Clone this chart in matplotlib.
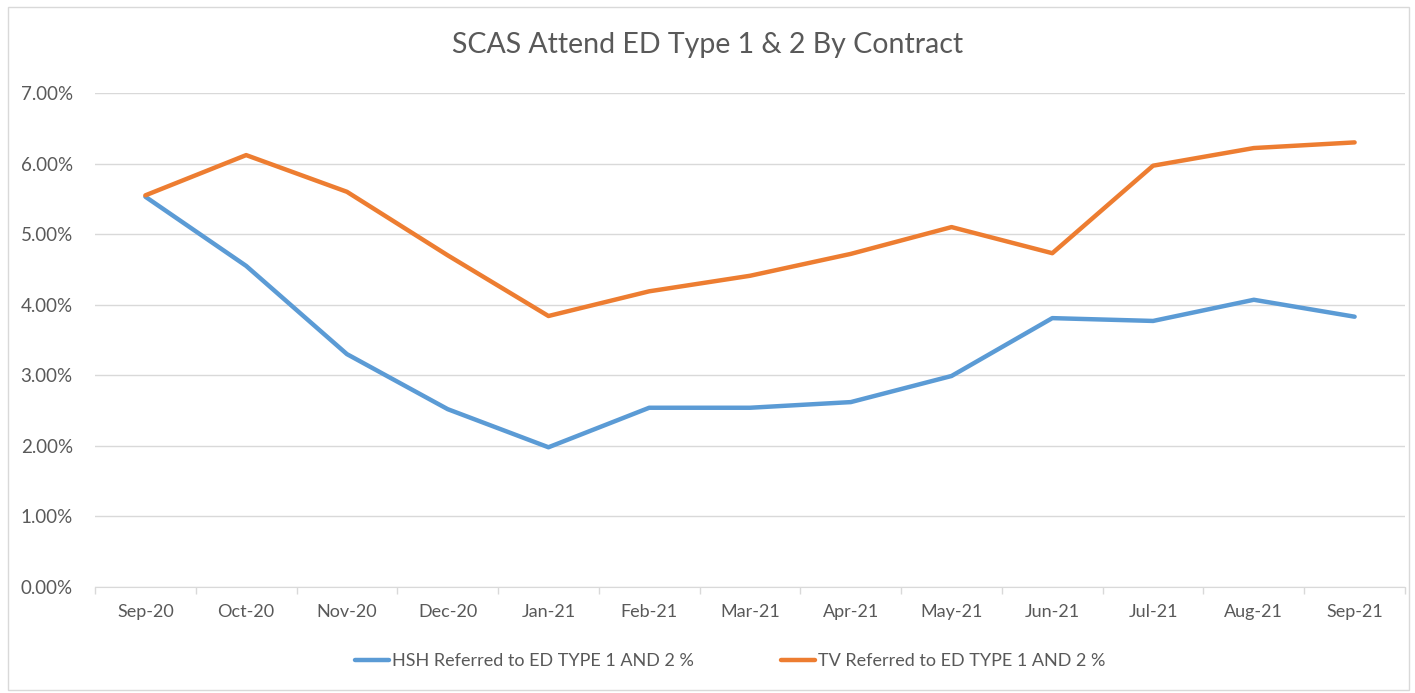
import numpy as np
import matplotlib.pyplot as plt
from matplotlib.ticker import PercentFormatter
from matplotlib.patches import Rectangle

plt.rcParams['font.family'] = ['Lato', 'DejaVu Sans']

months = ['Sep-20', 'Oct-20', 'Nov-20', 'Dec-20', 'Jan-21', 'Feb-21', 'Mar-21',
          'Apr-21', 'May-21', 'Jun-21', 'Jul-21', 'Aug-21', 'Sep-21']
hsh = [5.53, 4.55, 3.30, 2.52, 1.98, 2.54, 2.54, 2.62, 2.99, 3.81, 3.77, 4.07, 3.83]
tv = [5.55, 6.12, 5.60, 4.70, 3.84, 4.19, 4.41, 4.72, 5.10, 4.73, 5.97, 6.22, 6.30]

fig = plt.figure(figsize=(14.15, 6.93), dpi=100)
fig.patches.append(Rectangle((0.006, 0.004), 0.990, 0.986, transform=fig.transFigure,
                             fill=False, edgecolor='#d9d9d9', linewidth=1))
ax = fig.add_axes([95/1415, 1-587/693, 1310/1415, (587-93)/693])

x = np.arange(len(months))
ax.plot(x, np.array(hsh)/100, color='#5b9bd5', linewidth=3.2, solid_joinstyle='round',
        solid_capstyle='round', label='HSH Referred to ED TYPE 1 AND 2 %')
ax.plot(x, np.array(tv)/100, color='#ed7d31', linewidth=3.2, solid_joinstyle='round',
        solid_capstyle='round', label='TV Referred to ED TYPE 1 AND 2 %')

ax.set_xlim(-0.5, len(months)-0.5)
ax.set_ylim(0, 0.07)
ax.set_yticks(np.arange(0, 0.071, 0.01))
ax.yaxis.set_major_formatter(PercentFormatter(1.0, decimals=2))
ax.set_xticks(x)
ax.set_xticklabels(months)
ax.set_xticks(np.arange(-0.5, len(months), 1), minor=True)
ax.tick_params(axis='x', which='major', length=0, pad=12, labelsize=13, labelcolor='#595959')
ax.tick_params(axis='x', which='minor', length=5, color='#d9d9d9', width=1)
ax.tick_params(axis='y', length=0, pad=16, labelsize=13.5, labelcolor='#595959')

ax.grid(axis='y', color='#d9d9d9', linewidth=1)
ax.set_axisbelow(True)
for s in ['top', 'right', 'left']:
    ax.spines[s].set_visible(False)
ax.spines['bottom'].set_color('#d9d9d9')

fig.text(0.5, 1-45/693, 'SCAS Attend ED Type 1 & 2 By Contract', ha='center', va='center',
         fontsize=20.5, color='#595959')

fig.legend(loc='center', bbox_to_anchor=(0.516, 1-661/693), ncol=2, frameon=False,
           fontsize=13, handlelength=1.9, handletextpad=0.15, columnspacing=4.8,
           labelcolor='#595959')

plt.savefig('out.png', dpi=100)
